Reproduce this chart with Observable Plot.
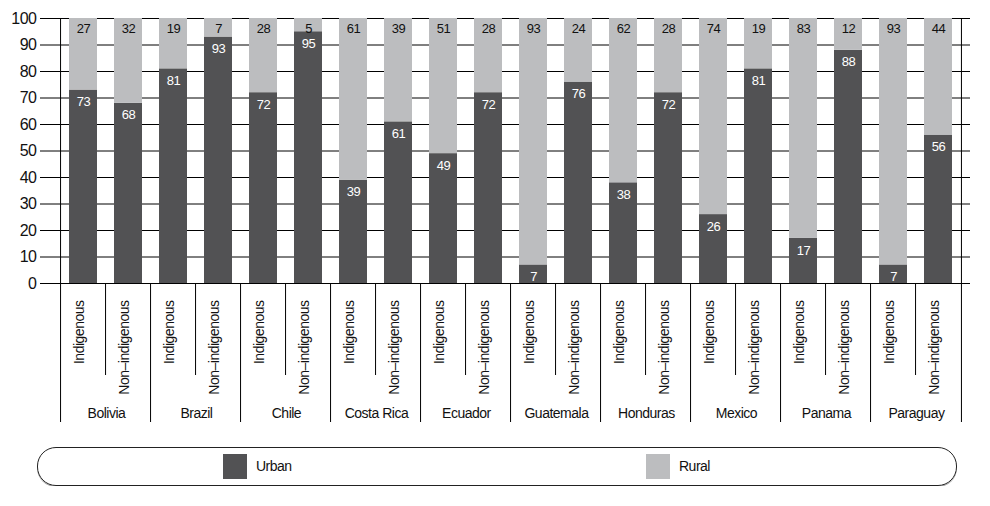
<!DOCTYPE html>
<html><head><meta charset="utf-8">
<script src="https://cdn.jsdelivr.net/npm/d3@7"></script>
<script src="https://cdn.jsdelivr.net/npm/@observablehq/plot@0.6"></script>
<style>
body{margin:0;background:#fff;font-family:"Liberation Sans",Arial,sans-serif;color:#111;}
#legend{position:relative;margin-left:37px;margin-top:7px;width:918px;height:37px;border:1px solid #222;border-radius:19px;box-shadow:0 1px 0 #aaa;}
.sw{position:absolute;top:6px;width:24px;height:25px;}
.lb{position:absolute;top:10px;font-size:14px;letter-spacing:-0.5px;}
</style></head><body>
<div id="chart"></div>
<div id="legend">
  <div class="sw" style="left:185px;background:#525254"></div><div class="lb" style="left:218px">Urban</div>
  <div class="sw" style="left:608px;background:#bcbdbf"></div><div class="lb" style="left:641px">Rural</div>
</div>
<script>
const countries = ["Bolivia","Brazil","Chile","Costa Rica","Ecuador","Guatemala","Honduras","Mexico","Panama","Paraguay"];
const groups = ["Indigenous","Non–indigenous"];
const urbanIndigenous    = [73,81,72,39,49, 7,38,26,17, 7];
const urbanNonIndigenous = [68,93,95,61,72,76,72,81,88,56];
const ruralIndigenous    = [27,19,28,61,51,93,62,74,83,93];
const ruralNonIndigenous = [32, 7, 5,39,28,24,28,19,12,44];
const yTicks = [0,10,20,30,40,50,60,70,80,90,100];
const types = ["Urban","Rural"];
const colors = ["#525254","#bcbdbf"];

const keyOf = (c, g) => c + "|" + g;
const keys = [];
const rows = [];
const cells = [];
countries.forEach((c, i) => {
  const vals = [[urbanIndigenous[i], ruralIndigenous[i]], [urbanNonIndigenous[i], ruralNonIndigenous[i]]];
  groups.forEach((g, j) => {
    const k = keyOf(c, g);
    keys.push(k);
    cells.push({key: k, country: c, group: g});
    types.forEach((t, m) => rows.push({key: k, country: c, group: g, type: t, value: vals[j][m]}));
  });
});
const urbanRows = rows.filter(d => d.type === "Urban");
const ruralRows = rows.filter(d => d.type === "Rural");

const W = 990, H = 440, ML = 52, MR = 20, MT = 18, MB = 157;
const step = (W - ML - MR) / keys.length;
const font = '"Liberation Sans",Arial,sans-serif';

const chart = Plot.plot({
  width: W, height: H,
  marginLeft: ML, marginRight: MR, marginTop: MT, marginBottom: MB,
  style: {fontFamily: font, fontSize: "14px", color: "#000", background: "white", letterSpacing: "-0.5px"},
  x: {domain: keys, paddingInner: 0.37, paddingOuter: 0.185, axis: null},
  y: {domain: [0, 100], axis: null},
  color: {domain: types, range: colors},
  marks: [
    Plot.gridY(yTicks, {stroke: "#000", strokeOpacity: 1}),
    Plot.axisY(yTicks, {tickSize: 12, tickPadding: 4, fontSize: 16, stroke: "#000", fill: "#111", label: null}),
    Plot.barY(rows, {x: "key", y: "value", fill: "type"}),
    Plot.text(urbanRows, {x: "key", y: "value", text: "value", fill: "white", dy: 12, fontSize: 13}),
    Plot.text(ruralRows, {x: "key", y: 100, text: "value", fill: "#111", dy: 10, fontSize: 13}),
    // outer frame lines (left axis and right edge)
    Plot.ruleX([keys[0]], {x: d => d, dx: -step / 2, insetBottom: -139, stroke: "#000"}),
    Plot.ruleX([keys[keys.length - 1]], {x: d => d, dx: step / 2, insetBottom: -139, stroke: "#000"}),
    // country separators below the axis
    Plot.ruleX(countries.slice(1), {x: c => keyOf(c, groups[0]), dx: -step / 2, insetTop: H - MT - MB, insetBottom: -139, stroke: "#000"}),
    // group separators within each country
    Plot.ruleX(countries, {x: c => keyOf(c, groups[1]), dx: -step / 2, insetTop: H - MT - MB, insetBottom: -92, stroke: "#000"}),
    // rotated group labels
    Plot.text(cells, {x: "key", text: "group", frameAnchor: "bottom", rotate: -90, textAnchor: "end", dy: 17, fontSize: 14, fill: "#111"}),
    // country labels
    Plot.text(countries, {x: c => keyOf(c, groups[0]), text: c => c, frameAnchor: "bottom", dx: step / 2, dy: 134, fontSize: 14, fill: "#111"})
  ]
});
document.getElementById("chart").appendChild(chart);
</script>
</body></html>
